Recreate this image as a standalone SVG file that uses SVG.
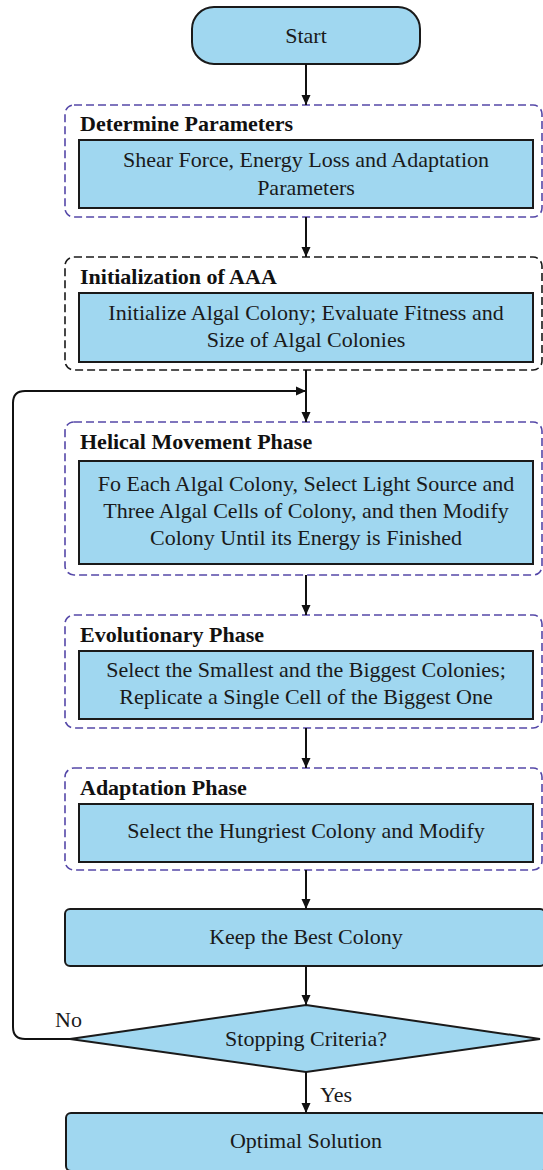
<svg xmlns="http://www.w3.org/2000/svg" width="543" height="1170" viewBox="0 0 543 1170">
<style>
  .bg { fill: #ffffff; }
  .proc { fill: #a0d7f0; stroke: #1a1a1a; stroke-width: 2; }
  .grp { fill: #ffffff; stroke: #5548a8; stroke-width: 1.6; stroke-dasharray: 8 4; }
  .grpk { fill: #ffffff; stroke: #1a1a1a; stroke-width: 1.6; stroke-dasharray: 8 4; }
  .t { font-family: "Liberation Serif", "Times New Roman", serif; font-size: 22px; fill: #1a1a1a; text-anchor: middle; }
  .h { font-family: "Liberation Serif", "Times New Roman", serif; font-size: 22px; font-weight: bold; fill: #111111; }
  .lbl { font-family: "Liberation Serif", "Times New Roman", serif; font-size: 22px; fill: #1a1a1a; }
  .edge { fill: none; stroke: #111111; stroke-width: 2; }
</style>
<defs>
  <marker id="arr" markerUnits="userSpaceOnUse" markerWidth="10" markerHeight="10" refX="10" refY="5" orient="auto">
    <path d="M0,0.5 L10,5 L0,9.5 z" fill="#111111"/>
  </marker>
</defs>
<rect class="bg" x="0" y="0" width="543" height="1170"/>

<g id="start">
  <rect class="proc" x="192" y="7" width="228" height="57" rx="22"/>
  <text class="t" x="306" y="43">Start</text>
</g>

<g id="determine">
  <rect class="grp" x="65" y="105" width="477" height="112" rx="9"/>
  <text class="h" x="80" y="131">Determine Parameters</text>
  <rect class="proc" x="79" y="140" width="454" height="68"/>
  <text class="t" x="306" y="167">Shear Force, Energy Loss and Adaptation</text>
  <text class="t" x="306" y="195">Parameters</text>
</g>

<g id="init">
  <rect class="grpk" x="65" y="257" width="477" height="113" rx="9"/>
  <text class="h" x="80" y="284">Initialization of AAA</text>
  <rect class="proc" x="79" y="293" width="454" height="69"/>
  <text class="t" x="306" y="320">Initialize Algal Colony; Evaluate Fitness and</text>
  <text class="t" x="306" y="347">Size of Algal Colonies</text>
</g>

<g id="helical">
  <rect class="grp" x="65" y="422" width="477" height="153" rx="9"/>
  <text class="h" x="80" y="449">Helical Movement Phase</text>
  <rect class="proc" x="79" y="461" width="454" height="103"/>
  <text class="t" x="306" y="491">Fo Each Algal Colony, Select Light Source and</text>
  <text class="t" x="306" y="518">Three Algal Cells of Colony, and then Modify</text>
  <text class="t" x="306" y="545">Colony Until its Energy is Finished</text>
</g>

<g id="evolutionary">
  <rect class="grp" x="65" y="615" width="477" height="113" rx="9"/>
  <text class="h" x="80" y="642">Evolutionary Phase</text>
  <rect class="proc" x="79" y="651" width="454" height="68"/>
  <text class="t" x="306" y="677">Select the Smallest and the Biggest Colonies;</text>
  <text class="t" x="306" y="704">Replicate a Single Cell of the Biggest One</text>
</g>

<g id="adaptation">
  <rect class="grp" x="65" y="768" width="477" height="102" rx="9"/>
  <text class="h" x="80" y="795">Adaptation Phase</text>
  <rect class="proc" x="79" y="804" width="454" height="58"/>
  <text class="t" x="306" y="838">Select the Hungriest Colony and Modify</text>
</g>

<g id="keepbest">
  <rect class="proc" x="65" y="909" width="480" height="57" rx="5"/>
  <text class="t" x="306" y="944">Keep the Best Colony</text>
</g>

<g id="stopping">
  <polygon class="proc" points="306,1005 540,1039 306,1072 70,1039"/>
  <text class="t" x="306" y="1046">Stopping Criteria?</text>
</g>

<g id="optimal">
  <rect class="proc" x="66" y="1113" width="480" height="58" rx="5"/>
  <text class="t" x="306" y="1148">Optimal Solution</text>
</g>

<g id="connectors">
  <line class="edge" x1="306" y1="64" x2="306" y2="105" marker-end="url(#arr)"/>
  <line class="edge" x1="306" y1="217" x2="306" y2="257" marker-end="url(#arr)"/>
  <line class="edge" x1="306" y1="370" x2="306" y2="422" marker-end="url(#arr)"/>
  <path class="edge" d="M70,1039 H25 Q13,1039 13,1027 V403 Q13,391 25,391 H306" marker-end="url(#arr)"/>
  <line class="edge" x1="306" y1="575" x2="306" y2="615" marker-end="url(#arr)"/>
  <line class="edge" x1="306" y1="728" x2="306" y2="768" marker-end="url(#arr)"/>
  <line class="edge" x1="306" y1="870" x2="306" y2="909" marker-end="url(#arr)"/>
  <line class="edge" x1="306" y1="966" x2="306" y2="1005" marker-end="url(#arr)"/>
  <line class="edge" x1="306" y1="1072" x2="306" y2="1113" marker-end="url(#arr)"/>
  <text class="lbl" x="55" y="1027">No</text>
  <text class="lbl" x="320" y="1102">Yes</text>
</g>
</svg>
